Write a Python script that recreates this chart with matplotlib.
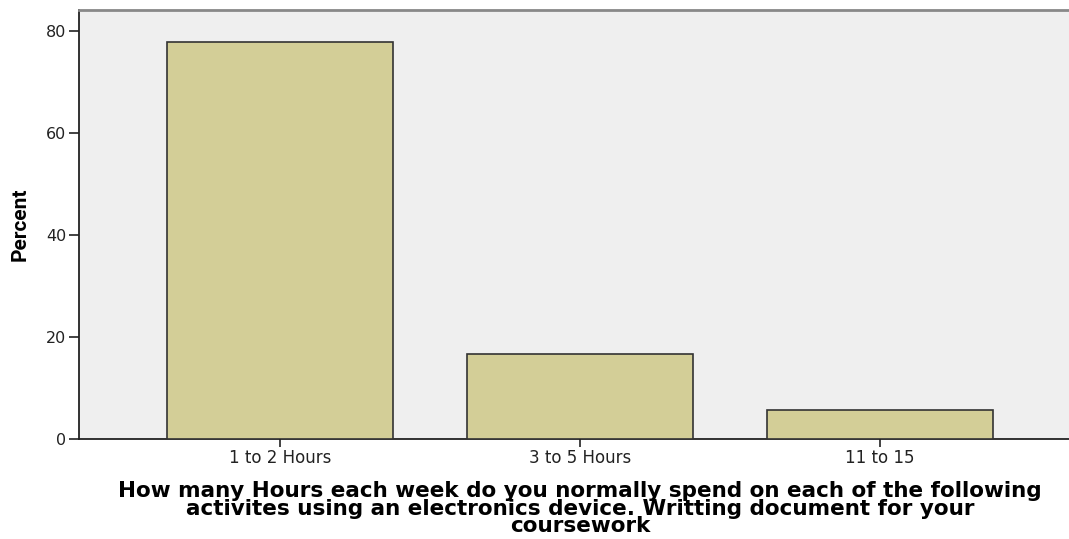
import matplotlib.pyplot as plt
import numpy as np

# data
categories = ['1 to 2 Hours', '3 to 5 Hours', '11 to 15']
percent = [77.8, 16.7, 5.6]
y_ticks = [0, 20, 40, 60, 80]

xlabel = ('How many Hours each week do you normally spend on each of the following\n'
          'activites using an electronics device. Writting document for your\n'
          'coursework')

fig = plt.figure(figsize=(10.69, 5.39), dpi=100)
# axes run past the right edge, as in the reference
ax = fig.add_axes([79 / 1069, 100 / 539, 1002 / 1069, 429 / 539])
ax.set_facecolor('#efefef')

x = np.arange(len(categories))
ax.bar(x, percent, width=0.753, color='#d3ce97', edgecolor='#333333', linewidth=1.2, zorder=3)

ax.set_xlim(-0.67, 2.67)
ax.set_ylim(0, 80 * 429 / 408)
ax.set_yticks(y_ticks)
ax.set_xticks(x)
ax.set_xticklabels(categories, fontsize=12, family='DejaVu Sans', color='#222222')
ax.set_yticklabels([str(v) for v in y_ticks], fontsize=11.5, family='DejaVu Sans', color='#222222')
ax.tick_params(axis='both', direction='out', length=6, width=1.2, color='#222222')
ax.tick_params(axis='x', pad=1)
ax.tick_params(axis='y', pad=2, length=7)

for s in ['left', 'bottom']:
    ax.spines[s].set_color('#222222')
    ax.spines[s].set_linewidth(1.3)
ax.spines['top'].set_color('#888888')
ax.spines['top'].set_linewidth(2)
ax.spines['right'].set_visible(False)

ax.set_ylabel('Percent', fontsize=15, fontweight='bold',
              family=['DejaVu Sans Condensed', 'Roboto'], labelpad=12)
ax.set_xlabel(xlabel, fontsize=15.5, fontweight='bold', family='DejaVu Sans',
              linespacing=0.87, labelpad=10)

fig.savefig('out.png', dpi=100)
